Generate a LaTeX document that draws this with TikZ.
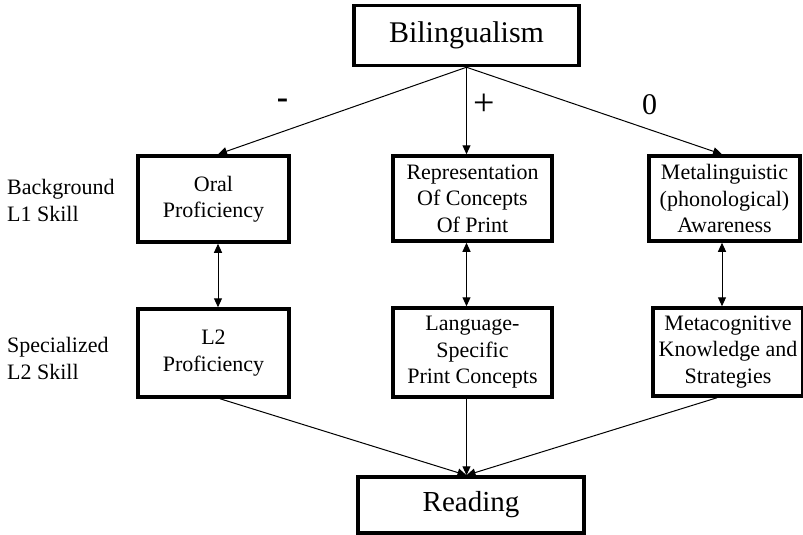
\documentclass[tikz,border=0pt]{standalone}
\usepackage{fontspec}
\setmainfont{Liberation Serif}
\usetikzlibrary{arrows.meta,calc}
\begin{document}
\begin{tikzpicture}[x=1pt,y=1pt,
  box/.style={draw=black,line width=3.5pt,rectangle,inner sep=0pt,align=center,
    font=\fontsize{22}{26.5}\selectfont},
  bigbox/.style={box,font=\fontsize{30}{34}\selectfont},
  conn/.style={line width=1pt,-{Triangle[length=9pt,width=8pt]}},
  dconn/.style={line width=1pt,{Triangle[length=9pt,width=8pt]}-{Triangle[length=9pt,width=8pt]}},
  side/.style={align=left,anchor=west,inner sep=0pt,font=\fontsize{22}{27}\selectfont},
  sign/.style={inner sep=0pt,font=\fontsize{30}{34}\selectfont}]
\useasboundingbox (0,0) rectangle (803,-535);
\node[bigbox,minimum width=225pt,minimum height=60pt] (bil) at (466.5,-35.5) {Bilingualism};
\node[box,minimum width=151pt,minimum height=86pt] (oral) at (213.5,-199) {Oral\\Proficiency};
\node[box,minimum width=159pt,minimum height=85pt] (rep) at (472.5,-198.5) {Representation\\Of Concepts\\Of Print};
\node[box,minimum width=151pt,minimum height=85pt] (meta) at (724.5,-198.5) {Metalinguistic\\(phonological)\\Awareness};
\node[box,minimum width=151pt,minimum height=88pt] (l2) at (213.5,-353) {L2\\Proficiency};
\node[box,minimum width=159pt,minimum height=89pt] (lang) at (472.5,-352.5) {Language-\\Specific\\Print Concepts};
\node[box,minimum width=150pt,minimum height=88pt] (metac) at (728,-352) {Metacognitive\\Knowledge and\\Strategies};
\node[box,minimum width=226pt,minimum height=56pt,font=\fontsize{29}{33}\selectfont] (read) at (471,-505) {Reading};
\node[side] (bg) at (7,-200) {Background\\L1 Skill};
\node[side] (sp) at (7,-358) {Specialized\\L2 Skill};
\node[sign,font=\fontsize{34}{38}\selectfont\bfseries] (minus) at (282.5,-104) {-};
\node[sign,font=\fontsize{38}{42}\selectfont] (plus) at (484.5,-105) {+};
\node[sign] (zero) at (649.5,-105) {0};
% top arrows
\draw[conn] (bil.south) -- ([xshift=4.5pt]oral.north);
\draw[conn] (bil.south) -- (bil.south |- rep.north);
\draw[conn] (bil.south) -- ([xshift=-2.5pt]meta.north);
% double arrows
\draw[dconn] ([xshift=4.5pt]oral.south) -- ([xshift=4.5pt]l2.north);
\draw[dconn] (bil.south |- rep.south) -- (bil.south |- lang.north);
\draw[dconn] ([xshift=-2.5pt]meta.south) -- ([xshift=-2.5pt]meta.south |- metac.north);
% to reading
\draw[conn] ([xshift=6.5pt]l2.south) -- (bil.south |- read.north);
\draw[conn] (bil.south |- lang.south) -- (bil.south |- read.north);
\draw[conn] ([xshift=-11pt]metac.south) -- (bil.south |- read.north);
\end{tikzpicture}
\end{document}
